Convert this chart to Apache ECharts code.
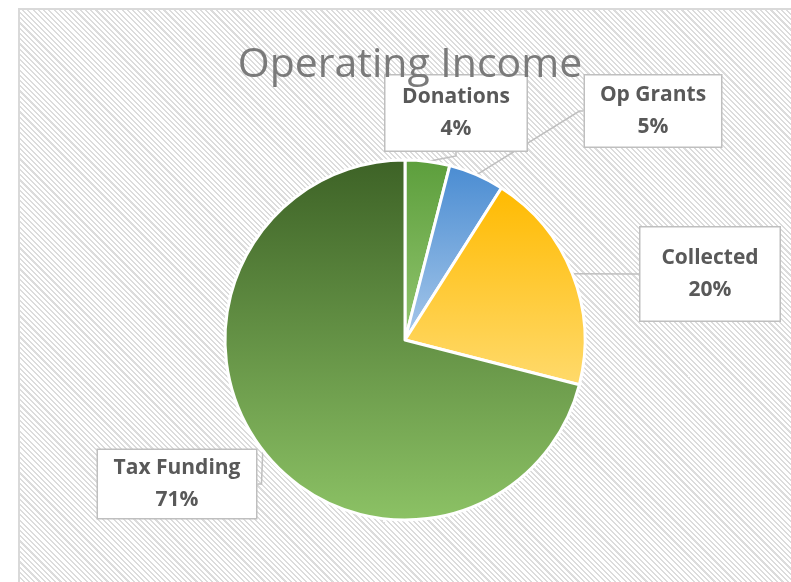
<!DOCTYPE html>
<html>
<head>
<meta charset="utf-8">
<script src="https://cdn.jsdelivr.net/npm/echarts@6/dist/echarts.min.js"></script>
<style>
  html, body { margin: 0; padding: 0; background: #ffffff; overflow: hidden; }
  #wrap { position: relative; width: 791px; height: 582px; overflow: hidden; background: #fff; }
  #frame { position: absolute; left: 18px; top: 8px; width: 820px; height: 600px;
    border-left: 2px solid #d9d9d9; border-top: 2px solid #d9d9d9; box-sizing: border-box;
    background: repeating-linear-gradient(45deg, #ffffff 0px, #ffffff 2.2px, #dcdcdc 2.2px, #dcdcdc 3.7px); }
  #chart { position: absolute; left: 0; top: 0; width: 791px; height: 582px; }
</style>
</head>
<body>
<div id="wrap">
  <div id="frame"></div>
  <div id="chart"></div>
</div>
<script>
const titleText = 'Operating Income';
const categories = ['Donations', 'Op Grants', 'Collected', 'Tax Funding'];
const values = [4, 5, 20, 71];
const topColors = ['#5c9e3c', '#4a8cd2', '#ffba00', '#3d6226'];
const bottomColors = ['#93c66f', '#a7c8ea', '#ffda6c', '#8cc265'];

// label box placement (layout only)
const boxCenters = [[456, 113], [653, 111], [710, 274], [177, 484]];
const boxSizes = [[141, 79], [136, 75], [139, 97], [158, 72]];

const chart = echarts.init(document.getElementById('chart'), null, { renderer: 'canvas' });

const data = categories.map((name, i) => ({
  name: name,
  value: values[i],
  itemStyle: {
    color: new echarts.graphic.LinearGradient(0, 0, 0, 1, [
      { offset: 0, color: topColors[i] },
      { offset: 1, color: bottomColors[i] }
    ])
  },
  label: {
    width: boxSizes[i][0] - 4,
    height: boxSizes[i][1] - 4,
    padding: [0, 2, 0, 2]
  }
}));

chart.setOption({
  backgroundColor: 'transparent',
  animation: false,
  title: {
    text: titleText,
    left: 405,
    textAlign: 'center',
    top: 40,
    textStyle: {
      fontFamily: 'Open Sans',
      fontWeight: 'normal',
      fontSize: 41,
      color: '#7a7a7a'
    }
  },
  series: [{
    type: 'pie',
    center: [405, 340],
    radius: 180,
    startAngle: 90,
    clockwise: true,
    avoidLabelOverlap: false,
    itemStyle: { borderColor: '#ffffff', borderWidth: 3 },
    data: data,
    label: {
      show: true,
      position: 'outside',
      formatter: '{b}\n{d}%',
      fontFamily: 'Open Sans',
      fontWeight: 'bold',
      fontSize: 21,
      lineHeight: 32,
      color: '#595959',
      align: 'center',
      verticalAlign: 'middle',
      backgroundColor: '#ffffff',
      borderColor: '#bfbfbf',
      borderWidth: 1.5
    },
    labelLine: {
      show: true,
      length: 4,
      length2: 4,
      lineStyle: { color: '#bfbfbf', width: 1.5 }
    },
    labelLayout: function (params) {
      const c = boxCenters[params.dataIndex];
      return { x: c[0], y: c[1], align: 'center', verticalAlign: 'middle' };
    }
  }]
});
</script>
</body>
</html>
